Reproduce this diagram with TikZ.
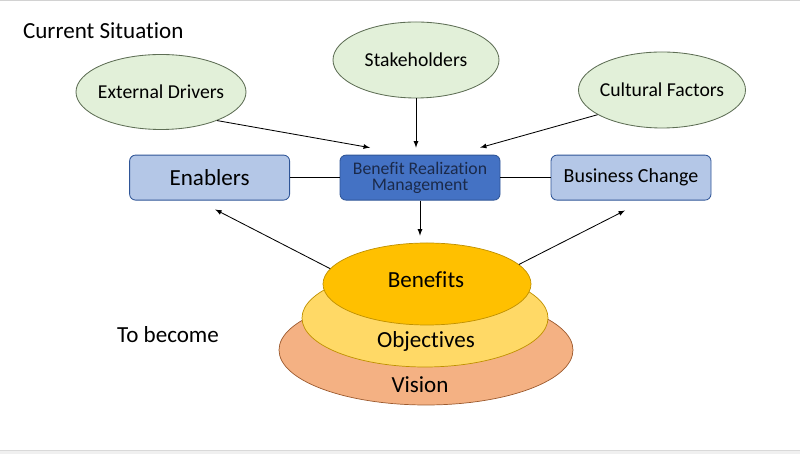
\documentclass[tikz,border=0pt]{standalone}
\usepackage{fontspec}
\setmainfont[Ligatures=NoCommon]{Carlito}
\usetikzlibrary{shapes.geometric,calc}
\definecolor{ovalfill}{HTML}{E2F0D9}
\definecolor{ovalline}{HTML}{5E6E55}
\definecolor{boxfill}{HTML}{B4C7E7}
\definecolor{boxline}{HTML}{2F5597}
\definecolor{brmfill}{HTML}{4472C4}
\definecolor{brmtext}{HTML}{1B2A4A}
\definecolor{benfill}{HTML}{FFC000}
\definecolor{objfill}{HTML}{FFD966}
\definecolor{goldline}{HTML}{BF9000}
\definecolor{visfill}{HTML}{F4B183}
\definecolor{visline}{HTML}{9C5A2E}
\begin{document}
\begin{tikzpicture}[>=latex, line width=0.6pt,
    oval/.style={ellipse, draw=ovalline, fill=ovalfill, inner sep=0pt},
    ovaltext/.style={font=\fontsize{14}{16}\selectfont},
    box/.style={rectangle, rounded corners=0.15cm, draw=boxline, fill=boxfill,
        minimum width=4cm, minimum height=1.125cm, font=\fontsize{16.4}{19}\selectfont},
    layer/.style={ellipse, inner sep=0pt, line width=0.5pt},
    bigtext/.style={font=\fontsize{16.4}{19}\selectfont}]
    % 1. Frame
    \useasboundingbox (0,0) rectangle (20,11.35);
    \fill[gray!12] (0,0) rectangle (20,0.1);
    \draw[gray!30, line width=0.4pt] (0,0.1) -- (20,0.1);
    \draw[gray!35, line width=0.6pt] (0,11.335) -- (20,11.335);
    
    % 2. Headings
    \node[bigtext, anchor=west] (now) at (0.45,10.575) {Current Situation};
    \node[bigtext] (become) at (4.2,2.975) {To become};
    
    % 3. Influences
    \node[oval, minimum width=4.25cm, minimum height=1.875cm,
        label={[ovaltext]center:External Drivers}] (ext) at (4.025,9.05) {};
    \node[oval, minimum width=4.15cm, minimum height=1.9cm,
        label={[ovaltext]center:Stakeholders}] (stake) at (10.4,9.85) {};
    \node[oval, minimum width=4.175cm, minimum height=1.9cm,
        label={[ovaltext]center:Cultural Factors}] (cult) at (16.55,9.1) {};
    
    % 4. Boxes
    \node[box] (enab) at (5.24,6.91) {Enablers};
    \node[box, fill=brmfill, text=brmtext, align=center, inner sep=1pt,
        font=\fontsize{12.6}{11.2}\selectfont] (brm) at (10.5,6.91)
        {Benefit Realization\\Management};
    \node[box, font=\fontsize{14.2}{17}\selectfont] (biz) at (15.775,6.91) {Business Change};
    
    % 5. Layers
    \node[layer, draw=visline, fill=visfill, minimum width=7.35cm, minimum height=2.75cm] (vis) at (10.65,2.6) {};
    \node[layer, draw=goldline, fill=objfill, minimum width=6.15cm, minimum height=2.45cm] (obj) at (10.625,3.4) {};
    \node[layer, draw=goldline, fill=benfill, minimum width=5.2cm, minimum height=2.05cm] (ben) at (10.675,4.25) {};
    \node[bigtext] (bentext) at (10.65,4.35) {Benefits};
    \node[bigtext] (objtext) at (10.65,2.825) {Objectives};
    \node[bigtext] (vistext) at (10.5,1.725) {Vision};
    
    % 6. Connectors
    \draw (enab) -- (brm);
    \draw (brm) -- (biz);
    \draw[->] (ext.-27) -- ($(brm.north)+(-1.25,0.175)$);
    \draw[->, shorten >=0.175cm] (stake.south) -- (stake.south |- brm.north);
    \draw[->] (cult.201) -- ($(brm.north)+(1.5,0.175)$);
    \draw[->, shorten >=0.175cm] (brm.south) -- (brm.south |- ben.north);
    \draw[->] (ben.171) -- ($(enab.south)+(0.14,-0.225)$);
    \draw[->] (ben.12) -- ($(biz.south)+(-0.15,-0.25)$);
\end{tikzpicture}
\end{document}
